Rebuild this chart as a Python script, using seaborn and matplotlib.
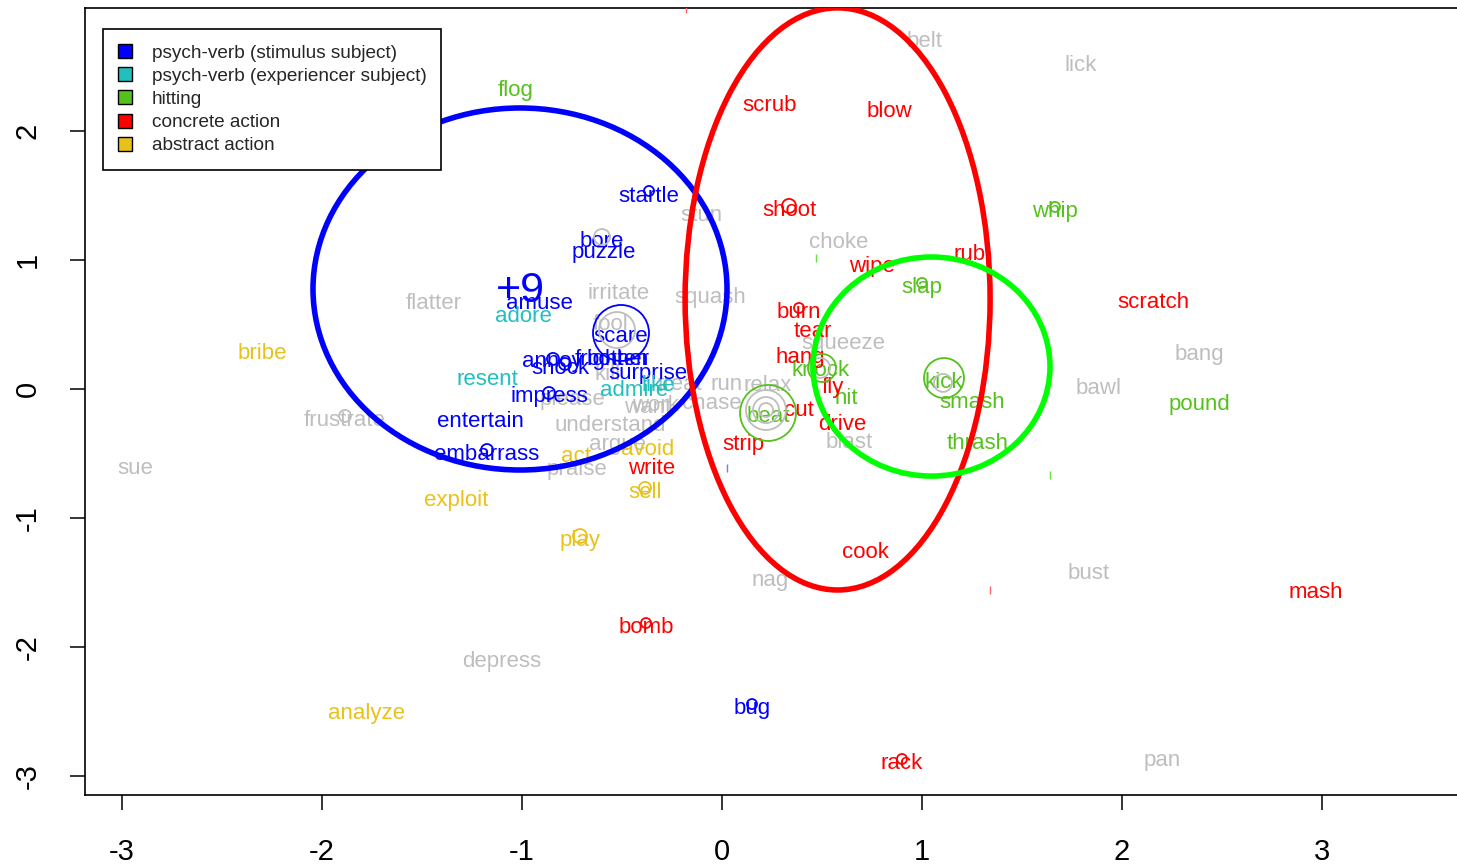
import numpy as np
import pandas as pd
import matplotlib
matplotlib.use("Agg")
import matplotlib.pyplot as plt
import seaborn as sns
from matplotlib.patches import Ellipse, Patch

# ---------------- data ----------------
categories = ["psych-verb (stimulus subject)", "psych-verb (experiencer subject)",
              "hitting", "concrete action", "abstract action"]
cat_colors = ["#0000FF", "#22BFBF", "#55C11C", "#FF0000", "#E8C21A"]
grey_color = "#BEBEBE"

grey_words = ["belt", "lick", "stun", "choke", "irritate", "squash", "flatter", "fool",
              "squeeze", "bang", "bawl", "run", "relax", "treat", "kill", "please",
              "work", "want", "chase", "understand", "argue", "praise", "blast",
              "frustrate", "sue", "nag", "bust", "depress", "pan"]
grey_x = [1.015, 1.795, -0.105, 0.585, -0.515, -0.06, -1.44, -0.56,
          0.605, 2.385, 1.885, 0.025, 0.23, -0.21, -0.57, -0.75,
          -0.335, -0.37, -0.05, -0.56, -0.525, -0.725, 0.635,
          -1.885, -2.935, 0.24, 1.835, -1.10, 2.20]
grey_y = [2.713, 2.527, 1.364, 1.155, 0.760, 0.729, 0.682, 0.519,
          0.372, 0.287, 0.023, 0.054, 0.047, 0.054, 0.132, -0.062,
          -0.109, -0.124, -0.093, -0.264, -0.411, -0.605, -0.395,
          -0.225, -0.597, -1.465, -1.411, -2.093, -2.860]

stim_words = ["startle", "bore", "puzzle", "amuse", "scare", "annoy", "frighten", "bother",
              "shock", "surprise", "impress", "entertain", "embarrass", "bug"]
stim_x = [-0.365, -0.60, -0.59, -0.915, -0.505, -0.85, -0.55, -0.52,
          -0.81, -0.37, -0.865, -1.21, -1.175, 0.15]
stim_y = [1.512, 1.163, 1.078, 0.682, 0.426, 0.233, 0.248, 0.248,
          0.178, 0.140, -0.039, -0.233, -0.488, -2.457]

exp_words = ["adore", "resent", "admire", "like"]
exp_x = [-0.995, -1.175, -0.44, -0.32]
exp_y = [0.581, 0.093, 0.008, 0.047]

hit_words = ["flog", "whip", "slap", "knock", "hit", "kick", "smash", "thrash", "beat", "pound"]
hit_x = [-1.03, 1.665, 1.0, 0.495, 0.62, 1.11, 1.25, 1.28, 0.23, 2.385]
hit_y = [2.333, 1.395, 0.806, 0.163, -0.054, 0.070, -0.085, -0.403, -0.194, -0.101]

conc_words = ["scrub", "blow", "shoot", "wipe", "rub", "scratch", "burn", "tear", "hang",
              "fly", "cut", "drive", "strip", "write", "cook", "mash", "bomb", "rack"]
conc_x = [0.24, 0.835, 0.335, 0.75, 1.24, 2.155, 0.385, 0.455, 0.39,
          0.555, 0.385, 0.60, 0.105, -0.35, 0.715, 2.97, -0.38, 0.90]
conc_y = [2.217, 2.171, 1.403, 0.969, 1.062, 0.690, 0.612, 0.465, 0.264,
          0.031, -0.147, -0.256, -0.411, -0.597, -1.248, -1.558, -1.829, -2.884]

abs_words = ["bribe", "act", "avoid", "sell", "exploit", "play", "analyze"]
abs_x = [-2.30, -0.73, -0.37, -0.385, -1.33, -0.71, -1.78]
abs_y = [0.295, -0.504, -0.450, -0.783, -0.845, -1.155, -2.496]

# cluster count label
count_label = "+9"
count_x, count_y = -1.01, 0.791

# hollow point markers (category index, -1 = unclassified grey), radius in px
circ_cat = [0, -1, 3, 0, -1, 2, -1, -1, -1, 2, -1, 2, -1, 0, 3, 2, 2,
            4, 4, 3, 0, 3, 0, -1, 0, 0]
circ_x = [-0.505, -0.525, 0.335, -0.365, -0.60, 0.23, 0.22, 0.22, 0.22, 0.50, 0.49, 1.11, 1.105,
          -0.865, 0.385, 1.0, 1.665, -0.385, -0.71, -0.38, 0.15, 0.90, -1.175,
          -1.885, -0.845, -0.785]
circ_y = [0.434, 0.457, 1.419, 1.535, 1.178, -0.186, -0.163, -0.163, -0.163, 0.163, 0.163, 0.085, 0.047,
          -0.031, 0.628, 0.822, 1.411, -0.767, -1.140, -1.814, -2.442, -2.868, -0.473,
          -0.209, 0.233, 0.194]
circ_r = [28, 18, 7, 5, 8, 28, 20, 13, 7, 14, 10, 20, 9,
          6, 5, 5, 5, 6, 7, 5, 5, 5, 6,
          6, 6, 6]

# tiny tick-like labels
tick_cat = [0, 3, 2, 0, 2, 3]
tick_x = [-2.04, -0.18, 0.47, 0.025, 1.64, 1.34]
tick_y = [2.163, 2.945, 1.016, -0.612, -0.667, -1.558]

# ellipses (center x, center y, half-width, half-height)
ell_colors = ["#0000FF", "#FF0000", "#00FF00"]
ell_cx = [-1.01, 0.578, 1.0475]
ell_cy = [0.775, 0.698, 0.174]
ell_rx = [1.035, 0.7625, 0.5925]
ell_ry = [1.403, 2.256, 0.849]

x_ticks = [-3, -2, -1, 0, 1, 2, 3]
y_ticks = [-3, -2, -1, 0, 1, 2]

# ---------------- plotting ----------------
sns.set_theme(style="white")
plt.rcParams['font.family'] = ['Liberation Sans', 'DejaVu Sans']

W, H = 1457, 866
fig = plt.figure(figsize=(W / 100, H / 100), dpi=100)
ax = fig.add_axes([85 / W, 71 / H, (1462 - 85) / W, (795 - 8) / H])
ax.set_xlim(-3.185, 3.70)
ax.set_ylim(-3.147, 2.953)

label_fs = 16

def draw_words(words, xs, ys, color):
    for w, x, y in zip(words, xs, ys):
        ax.text(x, y, w, color=color, fontsize=label_fs, ha="center",
                va="center_baseline", zorder=2)

draw_words(grey_words, grey_x, grey_y, grey_color)

# hollow circles via seaborn
cdf = pd.DataFrame({"x": circ_x, "y": circ_y, "r": circ_r, "cat": circ_cat})
cdf["s"] = (2 * cdf.r / 1.389) ** 2
pal = {-1: grey_color, 0: cat_colors[0], 1: cat_colors[1], 2: cat_colors[2],
       3: cat_colors[3], 4: cat_colors[4]}
sns.scatterplot(data=cdf, x="x", y="y", hue="cat", palette=pal, s=cdf["s"].values,
                marker="o", linewidth=1.3, legend=False, ax=ax, zorder=3)
coll = ax.collections[-1]
fcs = coll.get_facecolors()
coll.set_edgecolors(fcs)
coll.set_facecolors("none")

draw_words(stim_words, stim_x, stim_y, cat_colors[0])
draw_words(exp_words, exp_x, exp_y, cat_colors[1])
draw_words(hit_words, hit_x, hit_y, cat_colors[2])
draw_words(conc_words, conc_x, conc_y, cat_colors[3])
draw_words(abs_words, abs_x, abs_y, cat_colors[4])
ax.text(count_x, count_y, count_label, color=cat_colors[0], fontsize=31,
        ha="center", va="center_baseline", zorder=2)

# tiny tick labels
tdf = pd.DataFrame({"x": tick_x, "y": tick_y, "cat": tick_cat})
sns.scatterplot(data=tdf, x="x", y="y", hue="cat",
                palette={0: "#7777FF", 2: "#66DD44", 3: "#FF6666"},
                marker="|", s=40, linewidth=1.0, legend=False, ax=ax, zorder=3)

# ellipses
for cx, cy, rx, ry, c in zip(ell_cx, ell_cy, ell_rx, ell_ry, ell_colors):
    ax.add_patch(Ellipse((cx, cy), 2 * rx, 2 * ry, fill=False, edgecolor=c,
                         linewidth=4.0, zorder=4))

# axes styling
ax.set_xlabel("")
ax.set_ylabel("")
ax.set_xticks(x_ticks)
ax.set_yticks(y_ticks)
ax.set_xticklabels([str(v) for v in x_ticks])
ax.set_yticklabels([str(v) for v in y_ticks], rotation=90, va="center")
ax.tick_params(axis="both", direction="out", length=11, width=1.1, color="black",
               labelsize=21, labelcolor="black", pad=20, bottom=True, left=True)
for sp in ax.spines.values():
    sp.set_color("black")
    sp.set_linewidth(1.2)
    sp.set_visible(True)
ax.grid(False)

# legend
handles = [Patch(facecolor=c, edgecolor="black", linewidth=1.0) for c in cat_colors]
leg = ax.legend(handles, categories, loc="upper left",
                bbox_to_anchor=((103 - 85) / 1377, 1 - (29 - 8) / 787),
                borderaxespad=0, fontsize=13.7, frameon=True, fancybox=False,
                edgecolor="black", framealpha=1, handlelength=0.75, handleheight=0.75,
                handletextpad=1.0, labelspacing=0.29, borderpad=0.8)
leg.get_frame().set_linewidth(1.2)
leg.set_zorder(10)

fig.savefig("out.png", dpi=100)
